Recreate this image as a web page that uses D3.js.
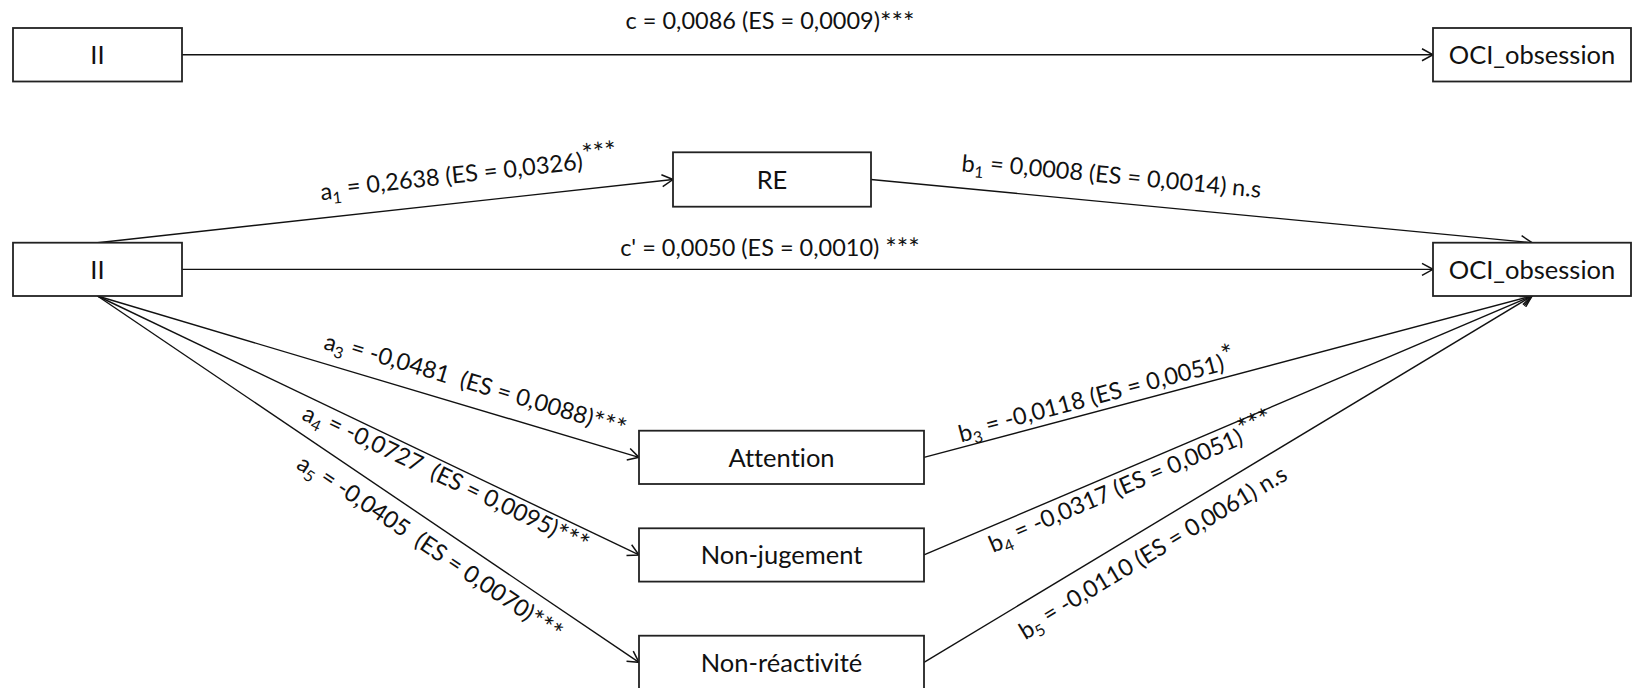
<!DOCTYPE html>
<html>
<head>
<meta charset="utf-8">
<script src="https://cdn.jsdelivr.net/npm/d3@7"></script>
<style>
  body { margin: 0; background: #fff; }
  svg text { font-family: Lato, "Open Sans", sans-serif; fill: #111; white-space: pre; font-variant-ligatures: none; }
</style>
</head>
<body>
<div id="chart"></div>
<script>
// variables of the mediation model (top row = total effect)
const nodeIds   = ["IIc", "OCIc", "II", "RE", "OCI", "ATT", "NJ", "NR"];
const nodeNames = ["II", "OCI_obsession", "II", "RE", "OCI_obsession", "Attention", "Non-jugement", "Non-réactivité"];

// paths
const pathSource = ["IIc", "II", "RE", "II", "II", "II", "II", "ATT", "NJ", "NR"];
const pathTarget = ["OCIc", "RE", "OCI", "OCI", "ATT", "NJ", "NR", "OCI", "OCI", "OCI"];
const pathLetter = ["c", "a", "b", "c'", "a", "a", "a", "b", "b", "b"];
const pathIndex  = ["", "1", "1", "", "3", "4", "5", "3", "4", "5"];
const coefs      = [0.0086, 0.2638, 0.0008, 0.0050, -0.0481, -0.0727, -0.0405, -0.0118, -0.0317, -0.0110];
const stdErrors  = [0.0009, 0.0326, 0.0014, 0.0010, 0.0088, 0.0095, 0.0070, 0.0051, 0.0051, 0.0061];
const signif     = ["***", "***", "n.s", "***", "***", "***", "***", "*", "***", "n.s"];

// ---- layout (page pixels) ----
const width = 1634, height = 688;
const boxes = {
    IIc:  [13, 28, 169, 53.5],
    OCIc: [1433, 28, 198, 53.5],
    II:   [13, 242.7, 169, 53.3],
    RE:   [673, 152.3, 198, 54.4],
    OCI:  [1433, 242.7, 198, 53.3],
    ATT:  [639, 430.7, 285, 53.3],
    NJ:   [639, 528.3, 285, 53.3],
    NR:   [639, 635.7, 285, 53.3]
}
// which side of the box each arrow leaves / enters
const fromSide = ["r", "t", "r", "r", "b", "b", "b", "r", "r", "r"];
const toSide   = ["l", "l", "t", "l", "l", "l", "l", "b", "b", "b"];
// label placement: fraction along the arrow, perpendicular offset (neg = above)
const labelT   = [0.47, 0.65, 0.36, 0.47, 0.686, 0.655, 0.637, 0.29, 0.331, 0.356];
const labelOff = [-34, -26, -25, -22, -22, 15, 23, -13, 17, 25];
const esGap    = ["", "", "", "", " ", " ", " ", "", "", ""];
const sigGap   = ["", "", " ", " ", "", "", "", "", "", " "];
const sigRaised = [false, true, false, false, false, false, false, true, true, false];

const fmt = d3.formatLocale({decimal: ",", thousands: " ", grouping: [3], currency: ["", ""], minus: "-"}).format(".4f");

const svg = d3.select("#chart").append("svg")
    .attr("width", width).attr("height", height);

svg.append("defs").append("marker")
    .attr("id", "arrow")
    .attr("viewBox", "-13 -7 15 14")
    .attr("refX", 0).attr("refY", 0)
    .attr("markerUnits", "userSpaceOnUse")
    .attr("markerWidth", 15).attr("markerHeight", 14)
    .attr("orient", "auto")
    .append("path")
    .attr("d", "M-11,-6L0,0L-11,6")
    .attr("fill", "none").attr("stroke", "#111").attr("stroke-width", 1.5);

function port(id, side) {
    const [x, y, w, h] = boxes[id];
    if (side === "l") return [x, y + h / 2];
    if (side === "r") return [x + w, y + h / 2];
    if (side === "t") return [x + w / 2, y];
    return [x + w / 2, y + h];
}

const paths = coefs.map((c, i) => ({
    p0: port(pathSource[i], fromSide[i]),
    p1: port(pathTarget[i], toSide[i]),
    i
}));

// arrows
svg.append("g").selectAll("line")
    .data(paths)
    .enter().append("line")
    .attr("x1", d => d.p0[0]).attr("y1", d => d.p0[1])
    .attr("x2", d => d.p1[0]).attr("y2", d => d.p1[1])
    .attr("stroke", "#111").attr("stroke-width", 1.4)
    .attr("marker-end", "url(#arrow)");

// boxes
const nodes = svg.append("g").selectAll("g")
    .data(nodeIds)
    .enter().append("g");
nodes.append("rect")
    .attr("x", d => boxes[d][0]).attr("y", d => boxes[d][1])
    .attr("width", d => boxes[d][2]).attr("height", d => boxes[d][3])
    .attr("fill", "#fff").attr("stroke", "#222").attr("stroke-width", 1.8);
nodes.append("text")
    .attr("x", d => boxes[d][0] + boxes[d][2] / 2)
    .attr("y", d => boxes[d][1] + boxes[d][3] / 2)
    .attr("dy", "0.36em")
    .attr("text-anchor", "middle")
    .attr("font-size", 25.5)
    .text((d, i) => nodeNames[i]);

// coefficient labels
const labels = svg.append("g").selectAll("text")
    .data(paths)
    .enter().append("text")
    .attr("font-size", 23.5)
    .attr("text-anchor", "middle")
    .attr("transform", d => {
        const [x0, y0] = d.p0, [x1, y1] = d.p1;
        const ang = Math.atan2(y1 - y0, x1 - x0);
        const t = labelT[d.i], o = labelOff[d.i];
        const cx = x0 + (x1 - x0) * t - Math.sin(ang) * o;
        const cy = y0 + (y1 - y0) * t + Math.cos(ang) * o;
        return `translate(${cx},${cy}) rotate(${ang * 180 / Math.PI})`;
    });

labels.each(function(d) {
    const i = d.i;
    const txt = d3.select(this);
    const first = txt.append("tspan").attr("dy", "0.35em").text(pathLetter[i]);
    if (pathIndex[i]) {
        txt.append("tspan").attr("font-size", "0.68em").attr("dy", "0.3em").text(pathIndex[i]);
        txt.append("tspan").attr("dy", "-0.3em").text(" = " + fmt(coefs[i]) + " " + esGap[i] + "(ES = " + fmt(stdErrors[i]) + ")" + sigGap[i]);
    } else {
        first.text(pathLetter[i] + " = " + fmt(coefs[i]) + " " + esGap[i] + "(ES = " + fmt(stdErrors[i]) + ")" + sigGap[i]);
    }
    const stars = signif[i].startsWith("*");
    const sig = txt.append("tspan").text(signif[i]);
    if (stars) sig.attr("font-size", "1.15em").attr("dy", sigRaised[i] ? "-0.2em" : "0.1em");
});
</script>
</body>
</html>
